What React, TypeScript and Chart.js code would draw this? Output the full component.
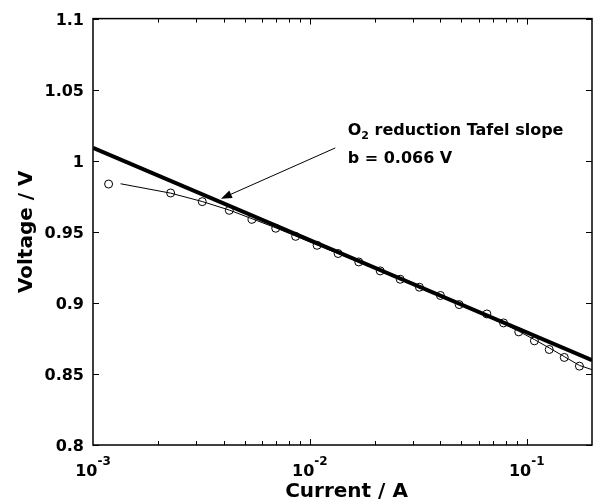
import { useEffect, useRef } from "react";
import { Chart, registerables } from "chart.js";

Chart.register(...registerables);

// ---- data ----
const measCurrent = [
  0.00118, 0.00228, 0.00319, 0.00425, 0.00541, 0.00696, 0.0086, 0.0108,
  0.0135, 0.0168, 0.0211, 0.0261, 0.032, 0.04, 0.0488, 0.0655, 0.0782,
  0.0919, 0.1085, 0.127, 0.149, 0.175,
];
const measVoltage = [
  0.9836, 0.9773, 0.9712, 0.9651, 0.9588, 0.9525, 0.9468, 0.9405, 0.9347,
  0.9288, 0.9225, 0.9166, 0.911, 0.9052, 0.8988, 0.8922, 0.8859, 0.8796,
  0.8733, 0.8672, 0.8616, 0.8555,
];
const fitCurrent = [
  0.00134, 0.00228, 0.00319, 0.00425, 0.00541, 0.00696, 0.0086, 0.0108,
  0.0135, 0.0168, 0.0211, 0.0261, 0.032, 0.04, 0.0488, 0.0655, 0.0782,
  0.0919, 0.1085, 0.127, 0.149, 0.175, 0.2,
];
const fitVoltage = [
  0.9838, 0.9772, 0.9713, 0.9653, 0.9592, 0.9528, 0.947, 0.9407, 0.9347,
  0.9287, 0.9225, 0.9166, 0.9108, 0.9047, 0.899, 0.8905, 0.8853, 0.88,
  0.8742, 0.8683, 0.8622, 0.856, 0.853,
];
const tafelCurrent = [0.001, 0.2];
const tafelVoltage = [1.009, 0.8597];

const yTickValues = [0.8, 0.85, 0.9, 0.95, 1.0, 1.05, 1.1];
const yTickLabels = ["0.8", "0.85", "0.9", "0.95", "1", "1.05", "1.1"];
const xMajorTicks = [0.001, 0.01, 0.1];
const xMajorExponents = ["-3", "-2", "-1"];
const xMinorMultipliers = [2, 3, 4, 5, 6, 7, 8, 9];

const xTitle = "Current / A";
const yTitle = "Voltage / V";
const annoLine1Main = "O";
const annoLine1Sub = "2";
const annoLine1Rest = " reduction Tafel slope";
const annoLine2 = "b = 0.066 V";
// annotation anchors, in data coordinates
const annoX = 0.01494;
const annoY1 = 1.0182;
const annoY2 = 0.9981;
const arrowFrom = [0.0131, 1.009];
const arrowTo = [0.00389, 0.9733];

const FONT = "'DejaVu Sans', 'Liberation Sans', sans-serif";

const decorPlugin = {
  id: "decor",
  afterDatasetsDraw(chart: any) {
    const { ctx, chartArea: a, scales } = chart;
    const xs = scales.x;
    const ys = scales.y;
    ctx.save();
    ctx.strokeStyle = "#000";
    ctx.fillStyle = "#000";

    // frame
    ctx.lineWidth = 1.5;
    ctx.strokeRect(a.left, a.top, a.right - a.left, a.bottom - a.top);

    // y ticks (inward, both sides)
    ctx.lineWidth = 1;
    ctx.beginPath();
    for (const v of yTickValues) {
      const py = Math.round(ys.getPixelForValue(v)) + 0.5;
      ctx.moveTo(a.left, py);
      ctx.lineTo(a.left + 6, py);
      ctx.moveTo(a.right, py);
      ctx.lineTo(a.right - 6, py);
    }
    // x ticks (inward, bottom and top)
    for (const d of xMajorTicks) {
      for (const m of [1, ...xMinorMultipliers]) {
        const v = d * m;
        if (v >= xs.max * 0.999 || v <= xs.min * 1.001) continue;
        const px = Math.round(xs.getPixelForValue(v)) + 0.5;
        const len = m === 1 ? 6 : 4;
        ctx.moveTo(px, a.bottom);
        ctx.lineTo(px, a.bottom - len);
        ctx.moveTo(px, a.top);
        ctx.lineTo(px, a.top + len);
      }
    }
    ctx.stroke();

    // x tick labels with superscripts
    ctx.textBaseline = "alphabetic";
    ctx.textAlign = "left";
    xMajorTicks.forEach((v, i) => {
      const px = xs.getPixelForValue(v);
      ctx.font = `bold 16px ${FONT}`;
      const wb = ctx.measureText("10").width;
      ctx.font = `bold 12px ${FONT}`;
      const ws = ctx.measureText(xMajorExponents[i]).width;
      const start = px - (wb + ws) / 2;
      ctx.font = `bold 16px ${FONT}`;
      ctx.fillText("10", start, a.bottom + 31);
      ctx.font = `bold 12px ${FONT}`;
      ctx.fillText(xMajorExponents[i], start + wb, a.bottom + 20);
    });

    // axis titles
    ctx.font = `bold 20px ${FONT}`;
    ctx.textAlign = "center";
    ctx.fillText(xTitle, (a.left + a.right) / 2 + 4, a.bottom + 52);
    ctx.save();
    ctx.translate(32, (a.top + a.bottom) / 2);
    ctx.rotate(-Math.PI / 2);
    ctx.fillText(yTitle, 0, 0);
    ctx.restore();

    // annotation text
    ctx.textAlign = "left";
    const tx = xs.getPixelForValue(annoX);
    const ty1 = ys.getPixelForValue(annoY1);
    const ty2 = ys.getPixelForValue(annoY2);
    ctx.font = `bold 16px ${FONT}`;
    ctx.fillText(annoLine1Main, tx, ty1);
    let cx = tx + ctx.measureText(annoLine1Main).width;
    ctx.font = `bold 11px ${FONT}`;
    ctx.fillText(annoLine1Sub, cx, ty1 + 4);
    cx += ctx.measureText(annoLine1Sub).width;
    ctx.font = `bold 16px ${FONT}`;
    ctx.fillText(annoLine1Rest, cx, ty1);
    ctx.fillText(annoLine2, tx, ty2);

    // arrow
    const x0 = xs.getPixelForValue(arrowFrom[0]);
    const y0 = ys.getPixelForValue(arrowFrom[1]);
    const x1 = xs.getPixelForValue(arrowTo[0]);
    const y1 = ys.getPixelForValue(arrowTo[1]);
    const ang = Math.atan2(y1 - y0, x1 - x0);
    const headLen = 11;
    const headW = 4;
    const bx = x1 - headLen * Math.cos(ang);
    const by = y1 - headLen * Math.sin(ang);
    ctx.lineWidth = 1;
    ctx.beginPath();
    ctx.moveTo(x0, y0);
    ctx.lineTo(bx, by);
    ctx.stroke();
    ctx.beginPath();
    ctx.moveTo(x1, y1);
    ctx.lineTo(bx + headW * Math.sin(ang), by - headW * Math.cos(ang));
    ctx.lineTo(bx - headW * Math.sin(ang), by + headW * Math.cos(ang));
    ctx.closePath();
    ctx.fill();

    ctx.restore();
  },
};

export default function App() {
  const ref = useRef<HTMLCanvasElement | null>(null);

  useEffect(() => {
    if (!ref.current) return;
    Chart.defaults.font.family = FONT;
    const chart = new Chart(ref.current, {
      type: "scatter",
      data: {
        datasets: [
          {
            label: "Tafel slope",
            data: tafelCurrent.map((c, i) => ({ x: c, y: tafelVoltage[i] })),
            showLine: true,
            borderColor: "#000",
            borderWidth: 4,
            pointRadius: 0,
            order: 0,
          },
          {
            label: "Fit",
            data: fitCurrent.map((c, i) => ({ x: c, y: fitVoltage[i] })),
            showLine: true,
            borderColor: "#000",
            borderWidth: 1,
            pointRadius: 0,
            order: 1,
          },
          {
            label: "Measured",
            data: measCurrent.map((c, i) => ({ x: c, y: measVoltage[i] })),
            showLine: false,
            borderColor: "#000",
            backgroundColor: "rgba(0,0,0,0)",
            pointRadius: 4,
            pointBorderWidth: 1,
            order: 2,
          },
        ],
      },
      options: {
        animation: false,
        responsive: false,
        events: [],
        layout: { padding: { top: 18, right: 3, left: 0, bottom: 0 } },
        plugins: {
          legend: { display: false },
          tooltip: { enabled: false },
        },
        scales: {
          x: {
            type: "logarithmic",
            min: 0.001,
            max: 0.2,
            grid: { display: false, drawTicks: false },
            border: { display: false },
            ticks: { display: false },
            afterFit: (s: any) => {
              s.height = 58;
            },
          },
          y: {
            type: "linear",
            min: 0.8,
            max: 1.1,
            grid: { display: false, drawTicks: false },
            border: { display: false },
            afterBuildTicks: (s: any) => {
              s.ticks = yTickValues.map((v) => ({ value: v }));
            },
            ticks: {
              padding: 9,
              labelOffset: 2,
              color: "#000",
              font: { size: 16, weight: "bold", family: FONT },
              callback: (v: any) => {
                const i = yTickValues.findIndex((t) => Math.abs(t - Number(v)) < 1e-6);
                return i >= 0 ? yTickLabels[i] : "";
              },
            },
            afterFit: (s: any) => {
              s.width = 93;
            },
          },
        },
      },
      plugins: [decorPlugin],
    } as any);
    return () => chart.destroy();
  }, []);

  return (
    <div style={{ position: "absolute", left: 0, top: 0, width: 597, height: 503, background: "#fff" }}>
      <canvas ref={ref} width={597} height={503} />
    </div>
  );
}
